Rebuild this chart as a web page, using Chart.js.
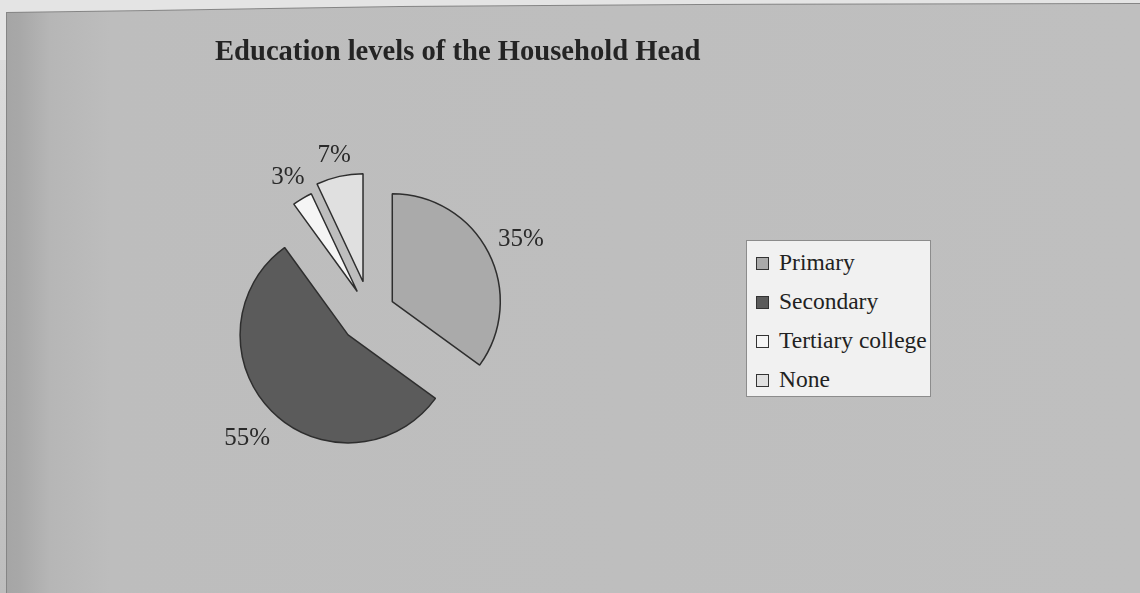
<!DOCTYPE html>
<html>
<head>
<meta charset="utf-8">
<script src="https://cdn.jsdelivr.net/npm/chart.js@4"></script>
<style>
  html, body { margin: 0; padding: 0; }
  body { width: 1140px; height: 593px; background: #e4e4e4; position: relative; overflow: hidden; }
  .edge, #frame { position: absolute; left: 0; top: 0; width: 1140px; height: 593px; }
  .edge {
    background: #858585;
    clip-path: polygon(6px 12px, 150px 10px, 400px 6px, 700px 4px, 1140px 3px, 1140px 593px, 6px 593px);
  }
  #frame {
    background: linear-gradient(to right, #a4a4a4 0px, #a8a8a8 20px, #b6b6b6 50px, #bdbdbd 110px, #bfbfbf 100%);
    clip-path: polygon(7px 13px, 150px 11px, 400px 7px, 700px 5px, 1140px 4px, 1140px 593px, 7px 593px);
  }
  #leftstrip { position: absolute; left: 0; top: 60px; width: 6px; height: 533px; background: linear-gradient(#dcdcdc, #bdbdbd); }
  #wrap { position: absolute; left: 0; top: 0; width: 1140px; height: 593px; }
  #title {
    position: absolute; left: 215px; top: 35px;
    font: bold 28.6px "Liberation Serif", "Times New Roman", serif; color: #242424;
    white-space: nowrap;
  }
  #legend {
    position: absolute; left: 746px; top: 240px; width: 185px; height: 157px;
    border: 1px solid #8c8c8c; background: #f1f1f1; box-sizing: border-box;
    font: 23.5px "Liberation Serif", "Times New Roman", serif; color: #222;
  }
  .item { position: absolute; left: 9px; height: 26px; line-height: 26px; white-space: nowrap; }
  .box { display: inline-block; width: 11px; height: 11px; border: 1px solid #333; margin-right: 10px; vertical-align: 0px; }
</style>
</head>
<body>
<div class="edge"></div>
<div id="frame"></div>
<div id="leftstrip"></div>
<div id="wrap"><canvas id="c" width="1140" height="593"></canvas></div>
<div id="title">Education levels of the Household Head</div>
<div id="legend"></div>
<script>
const categories = ['Primary', 'Secondary', 'Tertiary college', 'None'];
const shares = [35, 55, 3, 7];
const labelsText = ['35%', '55%', '3%', '7%'];
const sliceColors = ['#aaaaaa', '#5b5b5b', '#f5f5f5', '#e0e0e0'];
const explode = [25, 31, 25, 32];

// legend
const legend = document.getElementById('legend');
categories.forEach((name, i) => {
  const d = document.createElement('div');
  d.className = 'item';
  d.style.top = (8 + i * 39) + 'px';
  d.innerHTML = `<span class="box" style="background:${sliceColors[i]}"></span>${name}`;
  legend.appendChild(d);
});

// pull slices out along their mid angle (plain translation, radius unchanged)
const explodePlugin = {
  id: 'explode',
  afterDatasetsUpdate(chart) {
    const meta = chart.getDatasetMeta(0);
    meta.data.forEach((arc, i) => {
      const mid = (arc.startAngle + arc.endAngle) / 2;
      arc.x += Math.cos(mid) * explode[i];
      arc.y += Math.sin(mid) * explode[i];
    });
  }
};

// percentage labels just outside each slice
const outLabels = {
  id: 'outLabels',
  afterDatasetsDraw(chart) {
    const ctx = chart.ctx;
    const meta = chart.getDatasetMeta(0);
    ctx.save();
    ctx.font = '25px "Liberation Serif", "Times New Roman", serif';
    ctx.fillStyle = '#2a2a2a';
    ctx.textAlign = 'center';
    ctx.textBaseline = 'middle';
    meta.data.forEach((arc, i) => {
      const mid = (arc.startAngle + arc.endAngle) / 2;
      const c = Math.cos(mid), s = Math.sin(mid);
      const w = ctx.measureText(labelsText[i]).width;
      const r = arc.outerRadius + 12 + Math.abs(c) * w / 2 + Math.abs(s) * 9;
      ctx.fillText(labelsText[i], arc.x + c * r, arc.y + s * r + 3);
    });
    ctx.restore();
  }
};

new Chart(document.getElementById('c'), {
  type: 'pie',
  data: {
    labels: categories,
    datasets: [{
      data: shares,
      backgroundColor: sliceColors,
      borderColor: '#2e2e2e',
      borderWidth: 1.5
    }]
  },
  options: {
    responsive: false,
    animation: false,
    radius: 108,
    layout: { padding: { left: 0, right: 400, top: 33, bottom: 0 } },
    plugins: {
      legend: { display: false },
      tooltip: { enabled: false }
    }
  },
  plugins: [explodePlugin, outLabels]
});
</script>
</body>
</html>
